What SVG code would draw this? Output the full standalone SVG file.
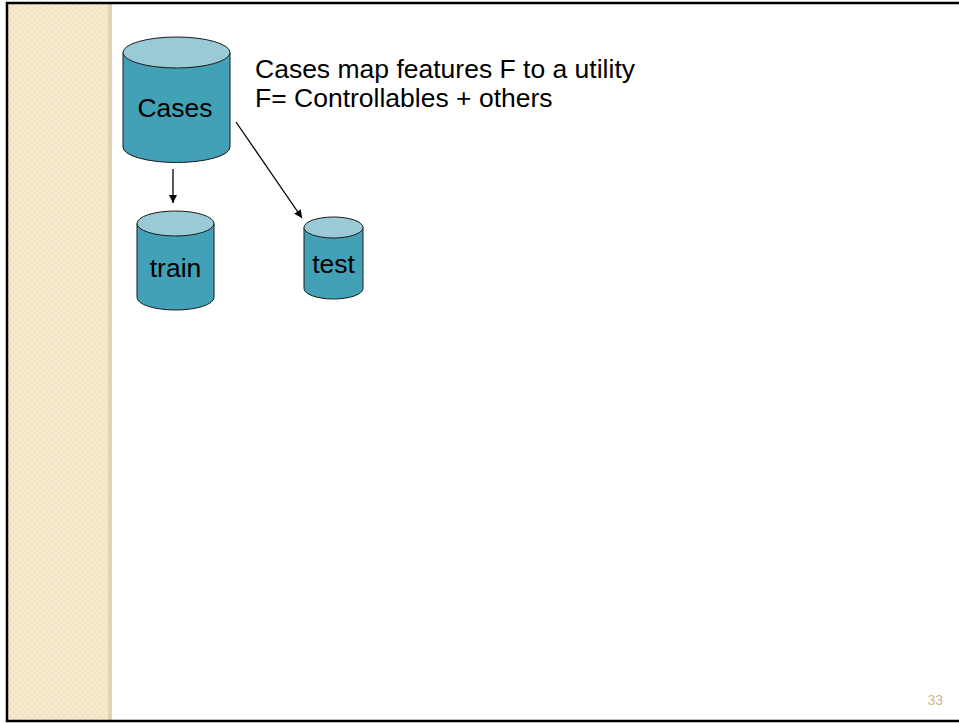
<svg xmlns="http://www.w3.org/2000/svg" width="959" height="723" viewBox="0 0 959 723">
  <defs>
    <pattern id="weave" width="6" height="6" patternUnits="userSpaceOnUse">
      <rect width="6" height="6" fill="#F2E3C3"/>
      <rect width="3" height="3" fill="#F6EAD0"/>
      <rect x="3" y="3" width="3" height="3" fill="#F6EAD0"/>
    </pattern>
    <marker id="arrow" viewBox="0 0 10 10" refX="10" refY="5" markerWidth="8" markerHeight="8" markerUnits="userSpaceOnUse" orient="auto">
      <path d="M0,0 L10,5 L0,10 z" fill="#000"/>
    </marker>
  </defs>
  <style>
    .body { fill: #42A1B6; stroke: #1a1a1a; stroke-width: 1; }
    .lid { fill: #9ACAD6; stroke: #1a1a1a; stroke-width: 1; }
    .label { font-family: "Liberation Sans", Arial, sans-serif; font-size: 26.5px; fill: #000; }
    .conn { stroke: #000; stroke-width: 1.3; fill: none; marker-end: url(#arrow); }
  </style>

  <!-- slide background and left band -->
  <rect width="959" height="723" fill="#fff"/>
  <rect x="7" y="3" width="104" height="718" fill="url(#weave)"/>
  <rect x="108" y="3" width="4" height="718" fill="#E3D3B2"/>
  <!-- frame -->
  <path d="M959,3 H7 V721 H959" fill="none" stroke="#000" stroke-width="2.5"/>

  <!-- Cases store -->
  <g id="cases">
    <path class="body" d="M123,52.5 V147 A53.5,15.5 0 0 0 230,147 V52.5"/>
    <ellipse class="lid" cx="176.5" cy="52.5" rx="53.5" ry="15.5"/>
    <text class="label" x="175" y="117" text-anchor="middle">Cases</text>
  </g>

  <!-- train store -->
  <g id="train">
    <path class="body" d="M137,223.5 V297.5 A38.5,12.5 0 0 0 214,297.5 V223.5"/>
    <ellipse class="lid" cx="175.5" cy="223.5" rx="38.5" ry="12.5"/>
    <text class="label" x="175.5" y="277" text-anchor="middle">train</text>
  </g>

  <!-- test store -->
  <g id="test">
    <path class="body" d="M304,227.5 V288.5 A29.5,10.5 0 0 0 363,288.5 V227.5"/>
    <ellipse class="lid" cx="333.5" cy="227.5" rx="29.5" ry="10.5"/>
    <text class="label" x="333.5" y="273" text-anchor="middle">test</text>
  </g>

  <!-- connectors -->
  <g id="connectors">
    <line class="conn" x1="173" y1="169" x2="173" y2="203"/>
    <line class="conn" x1="236" y1="122" x2="302" y2="218"/>
  </g>

  <!-- note -->
  <g id="note">
    <text class="label" x="255" y="78">Cases map features F to a utility</text>
    <text class="label" x="255" y="107">F= Controllables + others</text>
  </g>

  <!-- page number -->
  <text x="943" y="705" text-anchor="end" font-family="'Liberation Sans', Arial, sans-serif" font-size="14" fill="#C9B995">33</text>
</svg>
